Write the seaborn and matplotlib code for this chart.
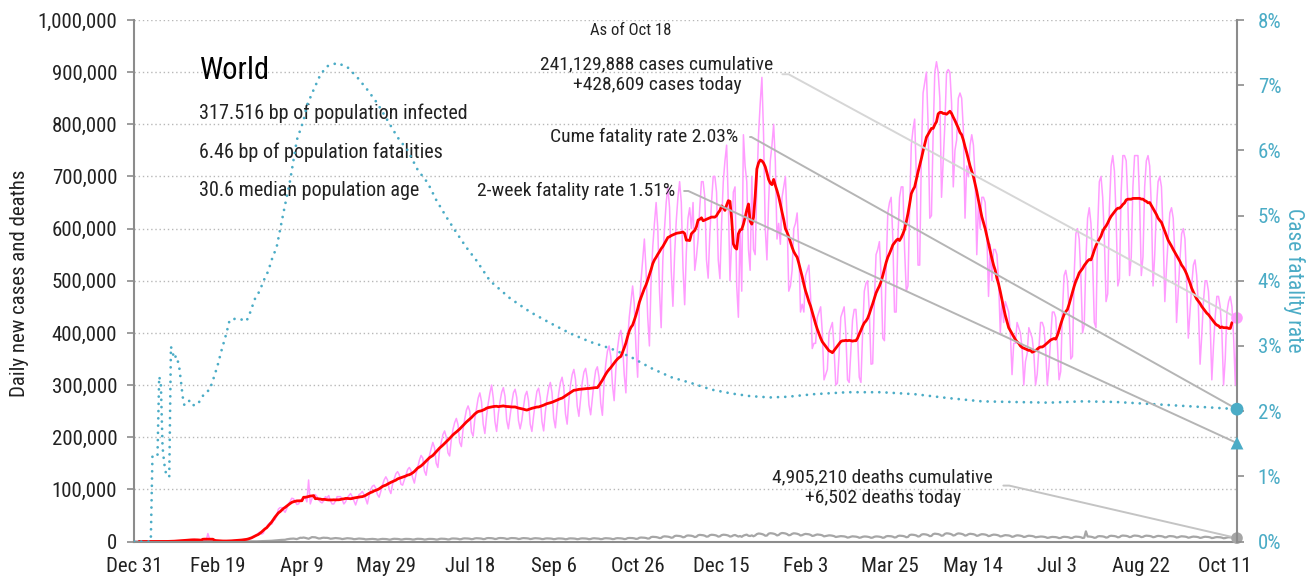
import numpy as np
import pandas as pd
import matplotlib
matplotlib.use("Agg")
import matplotlib.pyplot as plt
import seaborn as sns
from matplotlib import font_manager
from matplotlib.ticker import FuncFormatter

# daily new cases (thousands), one row per week, first day Dec 31 2019
cases_k = [
    [0, 0, 0, 0, 0, 0, 0],
    [0, 0, 0, 0, 0, 0, 0],
    [0, 0, 0, 0, 0, 0, 0.1],
    [0.2, 0.3, 0.6, 0.5, 0.7, 0.8, 1.4],
    [1.7, 1.7, 2.0, 2.1, 2.6, 2.8, 3.2],
    [3.9, 3.7, 3.2, 3.4, 2.7, 2.6, 2.1],
    [2.0, 2.1, 15.2, 5.1, 2.6, 2.1, 2.0],
    [1.9, 1.8, 0.6, 1.0, 1.0, 0.6, 0.7],
    [0.9, 1.0, 1.2, 1.5, 2.0, 1.8, 2.3],
    [2.4, 2.6, 2.8, 3.8, 4.0, 4.5, 5.0],
    [6, 8, 10, 12, 16, 18, 14],
    [16, 24, 28, 33, 36, 33, 40],
    [42, 50, 62, 65, 65, 60, 56],
    [63, 72, 77, 83, 82, 77, 71],
    [72, 78, 82, 84, 84, 76, 118],
    [72, 82, 88, 90, 86, 80, 76],
    [74, 78, 86, 84, 88, 78, 72],
    [72, 78, 86, 86, 86, 80, 72],
    [76, 84, 88, 92, 86, 78, 70],
    [80, 90, 92, 96, 90, 82, 72],
    [88, 100, 106, 108, 102, 90, 85],
    [96, 108, 118, 124, 118, 100, 92],
    [110, 120, 130, 134, 128, 110, 108],
    [118, 128, 138, 142, 136, 122, 112],
    [130, 142, 156, 165, 160, 135, 127],
    [150, 165, 178, 190, 180, 150, 142],
    [175, 190, 205, 212, 200, 170, 164],
    [195, 215, 228, 236, 224, 190, 182],
    [215, 235, 252, 260, 250, 210, 202],
    [235, 255, 275, 285, 268, 225, 207],
    [240, 265, 285, 300, 275, 230, 211],
    [245, 268, 286, 295, 278, 232, 216],
    [240, 265, 285, 292, 276, 232, 216],
    [232, 258, 280, 288, 270, 225, 211],
    [240, 266, 288, 294, 276, 230, 212],
    [248, 275, 295, 305, 285, 236, 218],
    [255, 285, 305, 315, 295, 245, 225],
    [270, 300, 320, 330, 310, 260, 240],
    [272, 305, 325, 332, 312, 262, 243],
    [275, 305, 328, 335, 315, 265, 242],
    [305, 340, 365, 375, 355, 300, 270],
    [330, 370, 395, 405, 380, 320, 285],
    [385, 430, 460, 490, 455, 370, 315],
    [450, 500, 540, 580, 520, 430, 375],
    [500, 565, 610, 650, 600, 480, 410],
    [540, 600, 650, 680, 640, 520, 451],
    [550, 615, 660, 690, 650, 525, 454],
    [555, 620, 640, 600, 650, 520, 545],
    [580, 640, 690, 690, 660, 540, 505],
    [590, 650, 700, 700, 670, 540, 504],
    [610, 690, 730, 760, 650, 500, 575],
    [670, 680, 490, 430, 600, 480, 780],
    [720, 690, 560, 520, 700, 560, 550],
    [680, 780, 840, 890, 780, 600, 540],
    [650, 730, 760, 800, 730, 580, 610],
    [570, 660, 680, 700, 620, 480, 490],
    [520, 600, 610, 630, 560, 440, 455],
    [440, 510, 520, 530, 470, 370, 380],
    [380, 430, 440, 450, 400, 310, 320],
    [330, 400, 410, 420, 370, 300, 304],
    [360, 430, 440, 450, 400, 310, 305],
    [365, 425, 445, 445, 395, 315, 305],
    [400, 480, 495, 500, 440, 340, 341],
    [460, 550, 560, 575, 510, 390, 385],
    [520, 630, 650, 660, 580, 440, 440],
    [580, 660, 680, 680, 560, 480, 490],
    [640, 760, 790, 810, 700, 530, 530],
    [740, 860, 880, 900, 800, 620, 625],
    [780, 900, 920, 900, 850, 660, 730],
    [800, 900, 905, 900, 840, 680, 750],
    [770, 850, 860, 850, 790, 620, 720],
    [700, 760, 780, 760, 700, 550, 650],
    [600, 660, 660, 650, 590, 470, 570],
    [500, 560, 560, 550, 500, 400, 465],
    [420, 460, 450, 440, 400, 320, 380],
    [380, 420, 410, 400, 370, 300, 345],
    [360, 410, 400, 390, 360, 300, 321],
    [370, 420, 420, 410, 370, 300, 335],
    [390, 440, 440, 430, 380, 310, 326],
    [440, 510, 520, 500, 440, 350, 355],
    [510, 590, 600, 580, 510, 400, 415],
    [540, 620, 640, 610, 540, 420, 410],
    [600, 690, 700, 660, 580, 460, 475],
    [640, 720, 740, 710, 620, 490, 504],
    [670, 740, 740, 730, 650, 510, 545],
    [680, 740, 740, 740, 650, 510, 546],
    [680, 730, 740, 720, 640, 490, 550],
    [640, 690, 700, 680, 590, 460, 524],
    [580, 630, 640, 620, 550, 420, 480],
    [540, 590, 600, 580, 500, 390, 440],
    [490, 530, 540, 510, 450, 340, 395],
    [460, 500, 500, 480, 420, 310, 375],
    [430, 470, 470, 450, 400, 300, 350],
    [440, 460, 470, 450, 390, 300, 428.609],
]

# daily deaths (thousands), same weeks
deaths_k = [
    [0, 0, 0, 0, 0, 0, 0],
    [0, 0, 0, 0, 0, 0, 0],
    [0, 0, 0, 0, 0, 0, 0],
    [0.01, 0.01, 0.01, 0.02, 0.02, 0.03, 0.03],
    [0.03, 0.03, 0.04, 0.04, 0.05, 0.06, 0.06],
    [0.07, 0.07, 0.08, 0.09, 0.09, 0.09, 0.1],
    [0.1, 0.1, 0.25, 0.14, 0.14, 0.14, 0.1],
    [0.1, 0.12, 0.1, 0.1, 0.1, 0.1, 0.1],
    [0.07, 0.05, 0.04, 0.05, 0.05, 0.05, 0.06],
    [0.05, 0.07, 0.08, 0.08, 0.1, 0.1, 0.1],
    [0.16, 0.16, 0.22, 0.3, 0.4, 0.45, 0.5],
    [0.55, 0.7, 0.8, 1.0, 1.3, 1.4, 1.7],
    [2.0, 2.3, 2.6, 3.0, 3.1, 3.2, 3.3],
    [4.2, 4.8, 5.2, 5.4, 5.6, 5.2, 4.6],
    [6.0, 7.2, 7.0, 7.6, 7.0, 6.0, 5.2],
    [6.8, 8.4, 8.2, 8.0, 7.0, 5.8, 5.9],
    [6.9, 7.3, 7.0, 7.0, 6.4, 5.3, 5.6],
    [6.2, 6.6, 6.4, 6.0, 5.6, 4.6, 5.2],
    [5.8, 6.3, 6.1, 5.8, 5.4, 4.4, 4.7],
    [5.3, 5.7, 5.5, 5.3, 4.9, 4.0, 4.3],
    [4.7, 5.1, 5.0, 4.8, 4.4, 3.6, 3.9],
    [4.6, 5.0, 4.9, 4.7, 4.3, 3.5, 3.8],
    [4.8, 5.2, 5.1, 4.9, 4.5, 3.7, 4.0],
    [4.7, 5.0, 5.0, 4.8, 4.4, 3.7, 3.9],
    [4.8, 5.2, 5.1, 4.9, 4.5, 3.7, 4.0],
    [4.7, 5.0, 5.0, 4.8, 4.4, 3.7, 3.9],
    [5.0, 5.4, 5.3, 5.1, 4.7, 3.9, 4.2],
    [5.5, 5.8, 5.7, 5.5, 5.1, 4.2, 4.6],
    [5.7, 6.0, 5.9, 5.7, 5.3, 4.4, 4.8],
    [5.9, 6.3, 6.2, 5.9, 5.5, 4.6, 4.8],
    [6.2, 6.6, 6.5, 6.3, 5.8, 4.8, 5.1],
    [6.3, 6.7, 6.6, 6.4, 5.9, 4.9, 5.2],
    [6.2, 6.6, 6.5, 6.3, 5.8, 4.8, 5.1],
    [6.1, 6.5, 6.4, 6.1, 5.7, 4.7, 5.1],
    [5.9, 6.3, 6.2, 5.9, 5.5, 4.6, 4.8],
    [5.7, 6.0, 5.9, 5.7, 5.3, 4.4, 4.8],
    [5.6, 5.9, 5.8, 5.6, 5.2, 4.3, 4.7],
    [5.7, 6.0, 5.9, 5.7, 5.3, 4.4, 4.8],
    [5.7, 6.0, 5.9, 5.7, 5.3, 4.4, 4.8],
    [5.8, 6.2, 6.0, 5.8, 5.4, 4.5, 4.8],
    [5.9, 6.3, 6.2, 5.9, 5.5, 4.6, 4.8],
    [6.0, 6.4, 6.3, 6.0, 5.6, 4.7, 4.9],
    [6.4, 6.8, 6.7, 6.5, 6.0, 5.0, 5.3],
    [7.1, 7.6, 7.5, 7.2, 6.7, 5.6, 5.9],
    [8.4, 9.0, 8.8, 8.5, 7.8, 6.6, 6.9],
    [9.2, 9.9, 9.7, 9.3, 8.6, 7.2, 7.7],
    [10.4, 11.1, 10.9, 10.5, 9.7, 8.1, 8.6],
    [10.9, 11.6, 11.4, 11.0, 10.2, 8.5, 9.2],
    [11.9, 12.7, 12.4, 12.0, 11.1, 9.3, 9.7],
    [12.1, 12.9, 12.7, 12.2, 11.3, 9.4, 9.9],
    [12.2, 13.0, 12.8, 12.3, 11.4, 9.5, 10.0],
    [11.8, 12.5, 11.0, 9.5, 10.5, 9.0, 11.3],
    [12.4, 13.2, 11.0, 10.5, 11.8, 10.0, 11.6],
    [14.2, 15.3, 15.0, 14.3, 13.2, 11.1, 11.4],
    [14.9, 15.9, 15.6, 15.0, 13.9, 11.6, 12.5],
    [15.2, 16.3, 16.0, 15.4, 14.2, 11.9, 12.5],
    [14.7, 15.7, 15.4, 14.8, 13.7, 11.5, 12.2],
    [13.7, 14.6, 14.3, 13.8, 12.7, 10.7, 11.2],
    [12.6, 13.5, 13.2, 12.7, 11.8, 9.8, 10.4],
    [11.0, 11.8, 11.6, 11.1, 10.3, 8.6, 9.1],
    [9.7, 10.3, 10.1, 9.8, 9.0, 7.5, 8.0],
    [9.2, 9.9, 9.7, 9.3, 8.6, 7.2, 7.7],
    [9.0, 9.6, 9.5, 9.1, 8.4, 7.1, 7.5],
    [9.1, 9.7, 9.6, 9.2, 8.5, 7.1, 7.7],
    [9.9, 10.5, 10.3, 10.0, 9.2, 7.7, 8.2],
    [10.5, 11.2, 11.0, 10.6, 9.8, 8.2, 8.7],
    [12.3, 13.1, 12.9, 12.4, 11.5, 9.6, 10.1],
    [13.1, 14.0, 13.8, 13.3, 12.3, 10.3, 10.7],
    [14.1, 15.0, 14.7, 14.2, 13.1, 11.0, 11.7],
    [14.7, 15.7, 15.4, 14.8, 13.7, 11.5, 12.2],
    [14.5, 15.5, 15.2, 14.6, 13.5, 11.3, 12.0],
    [13.9, 14.8, 14.5, 14.0, 12.9, 10.8, 11.5],
    [13.1, 14.0, 13.8, 13.3, 12.3, 10.3, 11.0],
    [12.4, 13.2, 13.0, 12.5, 11.6, 9.7, 10.2],
    [11.4, 12.2, 12.0, 11.6, 10.7, 8.9, 9.5],
    [11.0, 11.8, 11.6, 11.1, 10.3, 8.6, 9.1],
    [10.4, 11.1, 10.9, 10.5, 9.7, 8.1, 8.6],
    [8.9, 9.5, 9.4, 9.0, 8.3, 7.0, 7.4],
    [8.3, 8.8, 8.7, 8.4, 7.7, 6.5, 6.9],
    [8.4, 9.0, 8.8, 8.5, 7.8, 6.6, 6.9],
    [8.7, 9.3, 9.1, 8.8, 8.1, 6.8, 7.3],
    [19.5, 9.6, 9.5, 9.1, 8.4, 7.1, 7.5],
    [9.7, 10.3, 10.1, 9.8, 9.0, 7.5, 8.0],
    [10.3, 11.0, 10.8, 10.4, 9.6, 8.0, 8.5],
    [10.7, 11.4, 11.2, 10.8, 10.0, 8.4, 8.9],
    [10.7, 11.4, 11.2, 10.8, 10.0, 8.4, 8.9],
    [10.5, 11.2, 11.0, 10.6, 9.8, 8.2, 8.7],
    [10.1, 10.8, 10.6, 10.2, 9.4, 7.9, 8.2],
    [9.8, 10.4, 10.2, 9.9, 9.1, 7.6, 8.1],
    [9.3, 10.0, 9.8, 9.4, 8.7, 7.3, 7.8],
    [8.8, 9.4, 9.2, 8.9, 8.2, 6.9, 7.4],
    [8.5, 9.1, 8.9, 8.6, 7.9, 6.6, 7.0],
    [8.0, 8.5, 8.4, 8.1, 7.4, 6.2, 6.6],
    [7.6, 8.1, 7.9, 7.6, 7.1, 5.9, 6.502],
]

# cumulative case fatality rate (%), sampled by day number
cfr_day = list(range(0, 35)) + [
    36, 38, 40, 43, 45, 48, 50, 52, 55, 57, 61, 65, 67, 69, 72, 75, 77, 80,
    82, 85, 89, 93, 97, 101, 103, 107, 111, 115, 121, 127, 133, 139, 145,
    151, 157, 163, 169, 175, 180, 186, 192, 198, 204, 212, 224, 236, 248,
    260, 272, 284, 296, 308, 320, 332, 344, 356, 367, 379, 389, 405, 425,
    445, 465, 485, 505, 524, 545, 565, 585, 605, 625, 645, 657]
cfr_pct = [0] * 11 + [
    1.33, 1.33, 1.33, 1.33, 2.53, 2.43, 1.45, 1.2, 1.05, 0.99, 1.0, 2.99,
    2.9, 2.8, 2.85, 2.78, 2.66, 2.45, 2.22, 2.09, 2.1, 2.13, 2.16, 2.1] + [
    2.09, 2.1, 2.2, 2.3, 2.32, 2.55, 2.72, 2.92, 3.19, 3.4, 3.42, 3.4, 3.38,
    3.5, 3.72, 3.85, 3.99, 4.15, 4.32, 4.52, 5.04, 5.54, 6.16, 6.46, 6.69,
    6.93, 7.16, 7.29, 7.34, 7.28, 7.12, 6.93, 6.72, 6.46, 6.2, 6.0, 5.7,
    5.5, 5.24, 4.98, 4.74, 4.51, 4.31, 4.0, 3.73, 3.52, 3.35, 3.19, 3.06,
    2.96, 2.83, 2.66, 2.52, 2.43, 2.33, 2.27, 2.23, 2.21, 2.22, 2.26, 2.29,
    2.29, 2.26, 2.2, 2.15, 2.14, 2.13, 2.15, 2.14, 2.11, 2.08, 2.05, 2.03]

two_week_cfr = 1.51
tick_labels = ["Dec 31", "Feb 19", "Apr 9", "May 29", "Jul 18", "Sep 6", "Oct 26",
               "Dec 15", "Feb 3", "Mar 25", "May 14", "Jul 3", "Aug 22", "Oct 11"]

title = "World"
stats = ["317.516 bp of population infected",
         "6.46 bp of population fatalities",
         "30.6 median population age"]
as_of = "As of Oct 18"
cases_note = "241,129,888 cases cumulative\n+428,609 cases today"
deaths_note = "4,905,210 deaths cumulative\n+6,502 deaths today"
cume_note = "Cume fatality rate 2.03%"
two_week_note = "2-week fatality rate 1.51%"

pink = "#ff9cff"
red = "#ff0000"
grey = "#a6a6a6"
teal = "#4bacc6"
axis_grey = "#8c8c8c"
ink = "#222222"

sns.set_style("white")

# look for a narrow face; fall back to a smaller regular sans
entries = font_manager.fontManager.ttflist
names = {f.name for f in entries}
family, stretch, k = None, "normal", 1.0
for cand in ["Liberation Sans Narrow", "Roboto Condensed", "Open Sans Condensed",
             "DejaVu Sans Condensed", "Noto Sans Condensed"]:
    if cand in names:
        family = cand
        break
if family is None:
    for f in entries:
        if f.name in ("DejaVu Sans", "Roboto", "Noto Sans", "Open Sans") and \
                str(f.stretch) in ("condensed", "semi-condensed", "extra-condensed"):
            family, stretch = f.name, f.stretch
            break
if family is None:
    family, k = "Liberation Sans", 0.86
plt.rcParams["font.family"] = [family, "DejaVu Sans"]
plt.rcParams["font.stretch"] = stretch

cases = np.array(cases_k, dtype=float).ravel() * 1000
deaths = np.array(deaths_k, dtype=float).ravel() * 1000
df = pd.DataFrame({"day": np.arange(len(cases)), "cases": cases, "deaths": deaths})
df["avg"] = df["cases"].rolling(7, center=True).mean()
last = df["day"].iloc[-1]

fig = plt.figure(figsize=(13.11, 5.81), dpi=100)
ax = fig.add_axes([134 / 1311, 39.5 / 581, 1103 / 1311, 521.5 / 581])

sns.lineplot(data=df, x="day", y="cases", ax=ax, color=pink, lw=1.1, errorbar=None)
sns.lineplot(data=df, x="day", y="deaths", ax=ax, color=grey, lw=1.6, errorbar=None)
sns.lineplot(data=df, x="day", y="avg", ax=ax, color=red, lw=2.0, errorbar=None)

ax.set_xlim(0, last)
ax.set_ylim(0, 1000000)
ax.set_yticks(np.arange(0, 1000001, 100000))
ax.yaxis.set_major_formatter(FuncFormatter(lambda v, p: f"{int(v):,}"))
ax.set_xticks(np.arange(len(tick_labels)) * 50)
ax.set_xticklabels(tick_labels)
ax.set_xlabel("")
ax.set_ylabel("")
ax.grid(axis="y", linestyle=(0, (1, 2)), color="#b8b8b8", lw=1)
ax.set_axisbelow(True)
for s in ["top", "right"]:
    ax.spines[s].set_visible(False)
for s in ["left", "bottom"]:
    ax.spines[s].set_color(axis_grey)
    ax.spines[s].set_linewidth(1.5)
ax.tick_params(axis="both", which="major", length=5, width=1.2, color=axis_grey,
               labelsize=15 * k, labelcolor=ink, direction="out")
ax.tick_params(axis="y", pad=7)
ax.tick_params(axis="x", pad=6)

ax2 = ax.twinx()
sns.lineplot(x=cfr_day, y=cfr_pct, ax=ax2, color=teal, lw=2.0,
             linestyle=(0, (0.01, 2.6)), dash_capstyle="round", errorbar=None)
ax2.set_ylim(0, 8)
ax2.set_xlim(0, last)
ax2.set_yticks(np.arange(0, 9))
ax2.yaxis.set_major_formatter(FuncFormatter(lambda v, p: f"{int(v)}%"))
ax2.set_ylabel("")
for s in ["top", "left", "bottom"]:
    ax2.spines[s].set_visible(False)
ax2.spines["right"].set_color(axis_grey)
ax2.spines["right"].set_linewidth(1.5)
ax2.tick_params(axis="y", length=5, width=1.2, color=axis_grey, labelsize=15 * k,
                labelcolor=teal, pad=10)

fig.text(20 / 1311, 1 - 283 / 581, "Daily new cases and deaths", rotation=90,
         ha="center", va="center", fontsize=15 * k, color=ink)
fig.text(1294 / 1311, 1 - 280 / 581, "Case fatality rate", rotation=-90,
         ha="center", va="center", fontsize=15.5 * k, color=teal)

# end markers on the right edge
sns.scatterplot(x=[last], y=[df["cases"].iloc[-1]], ax=ax, color=pink, s=70,
                edgecolor="none", clip_on=False, zorder=5)
sns.scatterplot(x=[last], y=[df["deaths"].iloc[-1]], ax=ax, color=grey, s=70,
                edgecolor="none", clip_on=False, zorder=5)
sns.scatterplot(x=[last], y=[cfr_pct[-1]], ax=ax2, color=teal, s=85,
                edgecolor="none", clip_on=False, zorder=5)
sns.scatterplot(x=[last], y=[two_week_cfr], ax=ax2, color=teal, s=85, marker="^",
                edgecolor="none", clip_on=False, zorder=5)

# text block
ax.text(39, 904000, title, fontsize=22 * k, color="black", va="center", ha="left")
for i, line in enumerate(stats):
    ax.text(39, 821000 - i * 74000, line, fontsize=14.5 * k, color=ink,
            va="center", ha="left")
ax.text(296, 979000, as_of, fontsize=12 * k, color=ink, ha="center", va="center")


def leader(axis, text, xy, xytext, ha, rel, color, arm, shrink):
    axis.annotate(text, xy=xy, xytext=xytext, ha=ha, va="center", fontsize=14 * k,
                  color=ink, linespacing=1.2, annotation_clip=False,
                  arrowprops=dict(arrowstyle="-", color=color, lw=1.4,
                                  relpos=rel, shrinkA=shrink, shrinkB=0,
                                  connectionstyle=f"arc,angleA=0,armA={arm},angleB=0,armB=0,rad=0"))


leader(ax, cases_note, (last, df["cases"].iloc[-1]), (311.5, 894500), "center",
       (1, 0.52), "#d6d6d6", 15, 4)
leader(ax, deaths_note, (last, df["deaths"].iloc[-1]), (446, 103500), "center",
       (1, 0.55), "#c4c4c4", 16, 5)
leader(ax2, cume_note, (last, cfr_pct[-1]), (360, 6.205), "right",
       (1, 0.5), "#b5b5b5", 13, 6)
leader(ax2, two_week_note, (last, two_week_cfr), (322.4, 5.377), "right",
       (1, 0.5), "#b5b5b5", 13, 4)

fig.savefig("out.png", dpi=100, facecolor="white")
